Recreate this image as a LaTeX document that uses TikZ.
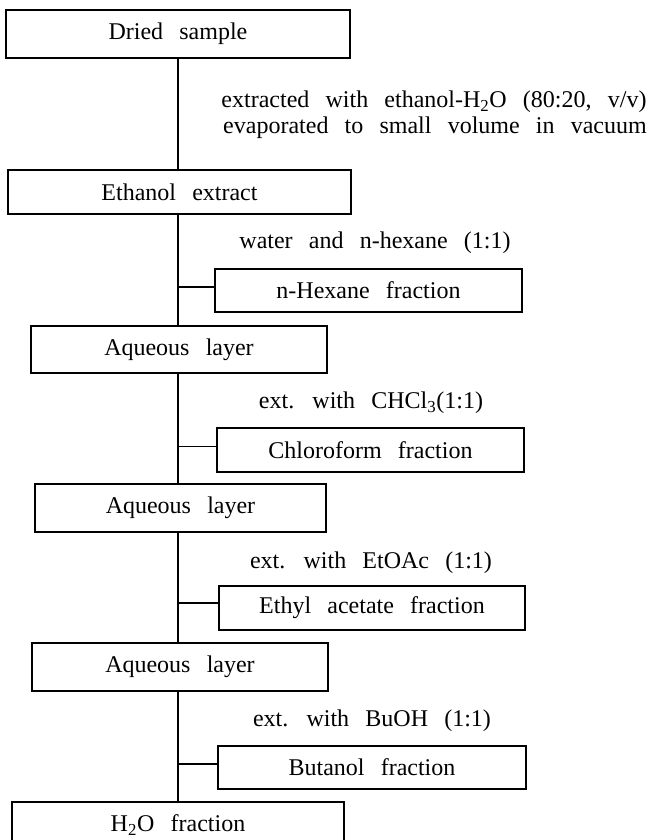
\documentclass[tikz,border=0pt]{standalone}
\usepackage{fontspec}
\setmainfont{Liberation Serif}[WordSpace=2.7]
\begin{document}
\begin{tikzpicture}[x=0.75pt,y=-0.75pt,
  box/.style={draw,line width=1.3pt,inner sep=0pt,font=\fontsize{18}{20}\selectfont},
  lbl/.style={inner sep=0pt,font=\fontsize{18}{20}\selectfont},
  conn/.style={line width=1.3pt}]
\useasboundingbox (0,0) rectangle (649,840);
\coordinate (spine) at (178,0);
% main boxes
\node[box,minimum width={344*0.75pt},minimum height={48*0.75pt}] (dried) at (178,34) {Dried sample};
\node[box,minimum width={343*0.75pt},minimum height={44*0.75pt}] (ethanol) at (179.5,192) {Ethanol extract};
\node[box,minimum width={296*0.75pt},minimum height={47*0.75pt}] (aq1) at (179,349.5) {Aqueous layer};
\node[box,minimum width={291*0.75pt},minimum height={48*0.75pt}] (aq2) at (180.5,508) {Aqueous layer};
\node[box,minimum width={296*0.75pt},minimum height={48*0.75pt}] (aq3) at (180,667) {Aqueous layer};
\node[box,minimum width={332*0.75pt},minimum height={46*0.75pt}] (h2o) at (178,825) {H\textsubscript{2}O fraction};
% side boxes
\node[box,minimum width={307*0.75pt},minimum height={43*0.75pt}] (hexane) at (368.5,290.5) {n-Hexane fraction};
\node[box,minimum width={307*0.75pt},minimum height={44*0.75pt}] (chloro) at (370.5,450) {Chloroform fraction};
\node[box,minimum width={306*0.75pt},minimum height={44*0.75pt}] (ethyl) at (372,608) {Ethyl acetate fraction};
\node[box,minimum width={308*0.75pt},minimum height={43*0.75pt}] (butanol) at (372,767.5) {Butanol fraction};
% labels
\node[lbl] (l1a) at (434,102) {extracted with ethanol-H\textsubscript{2}O (80:20, v/v)};
\node[lbl] (l1b) at (435,128) {evaporated to small volume in vacuum};
\node[lbl] (l2) at (375,243) {water and n-hexane (1:1)};
\node[lbl] (l3) at (371,403) {ext. with CHCl\textsubscript{3}(1:1)};
\node[lbl] (l4) at (371,563) {ext. with EtOAc (1:1)};
\node[lbl] (l5) at (372,721) {ext. with BuOH (1:1)};
% connectors
\draw[conn] (dried.south -| spine) -- (ethanol.north -| spine);
\draw[conn] (ethanol.south -| spine) -- (aq1.north -| spine);
\draw[conn] (aq1.south -| spine) -- (aq2.north -| spine);
\draw[conn] (aq2.south -| spine) -- (aq3.north -| spine);
\draw[conn] (aq3.south -| spine) -- (h2o.north -| spine);
\draw[conn] ([yshift=2.6pt]hexane.west -| spine) -- ([yshift=2.6pt]hexane.west);
\draw[conn] ([yshift=2.6pt]chloro.west -| spine) -- ([yshift=2.6pt]chloro.west);
\draw[conn] ([yshift=3.5pt]ethyl.west -| spine) -- ([yshift=3.5pt]ethyl.west);
\draw[conn] ([yshift=2.6pt]butanol.west -| spine) -- ([yshift=2.6pt]butanol.west);
\end{tikzpicture}
\end{document}
